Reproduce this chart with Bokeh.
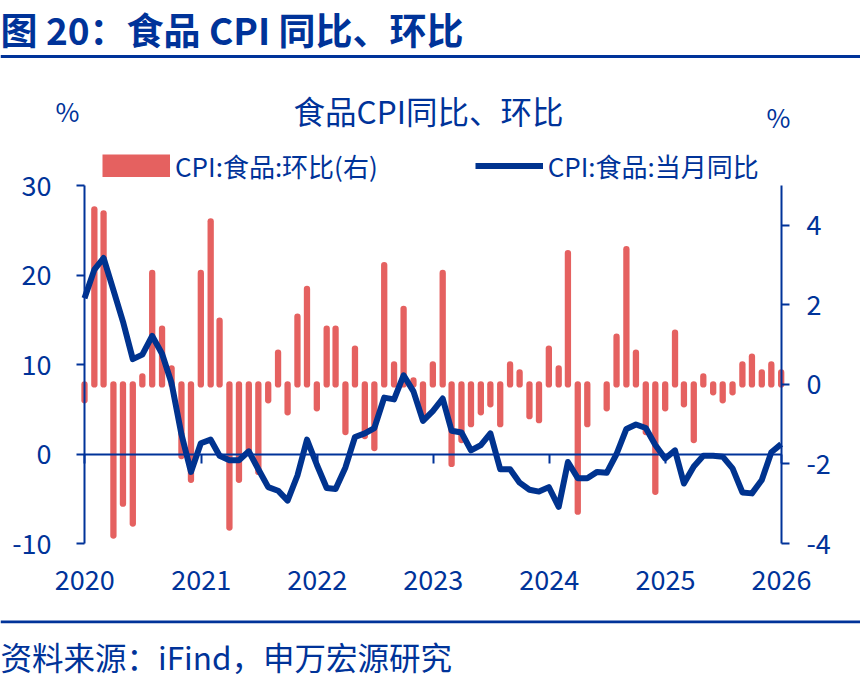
import pandas as pd

from bokeh.plotting import figure
from bokeh.models import (Range1d, LinearAxis, DatetimeAxis, FixedTicker, DatetimeTickFormatter,
                          Legend, LegendItem, Label, Span, ColumnDataSource)
from bokeh.embed import file_html
from bokeh.resources import INLINE

BLUE = "#003399"
LINE_BLUE = "#00338F"
RED = "#E56160"
FONT = "Noto Sans CJK SC"

# month-end dates, Dec 2019 .. Dec 2025
months = pd.date_range("2019-12-31", periods=73, freq="ME")

# CPI:食品:环比 (%, right axis)
mom = [-0.4,
       4.4, 4.3, -3.8, -3.0, -3.5, 0.2, 2.8, 1.4, 0.4, -1.8, -2.4, 2.8,
       4.1, 1.6, -3.6, -2.4, -1.7, -2.2, -0.4, 0.8, -0.7, 1.7, 2.4, -0.6,
       1.4, 1.4, -1.2, 0.9, -1.3, -1.6, 3.0, 0.5, 1.9, 0.1, -0.8, 0.5,
       2.8, -2.0, -1.4, -1.0, -0.7, -0.5, -1.0, 0.5, 0.3, -0.8, -0.9, 0.9,
       0.4, 3.3, -3.2, -1.0, 0.0, -0.6, 1.2, 3.4, 0.8, -1.2, -2.7, -0.6,
       1.3, -0.5, -1.4, 0.2, -0.2, -0.4, -0.2, 0.5, 0.7, 0.3, 0.5, 0.3]

# CPI:食品:当月同比 (%, left axis)
yoy = [17.4,
       20.6, 21.9, 18.3, 14.8, 10.6, 11.1, 13.2, 11.2, 7.9, 2.2, -2.0, 1.2,
       1.6, -0.2, -0.7, -0.7, 0.3, -1.7, -3.7, -4.1, -5.2, -2.4, 1.6, -1.2,
       -3.8, -3.9, -1.5, 1.9, 2.3, 2.9, 6.3, 6.1, 8.8, 7.0, 3.7, 4.8,
       6.2, 2.6, 2.4, 0.4, 1.0, 2.3, -1.7, -1.7, -3.2, -4.0, -4.2, -3.7,
       -5.9, -0.9, -2.7, -2.7, -2.0, -2.1, 0.0, 2.8, 3.3, 2.9, 1.0, -0.5,
       0.4, -3.3, -1.4, -0.2, -0.2, -0.3, -1.6, -4.3, -4.4, -2.9, 0.2, 1.1]

year_labels = ["2020", "2021", "2022", "2023", "2024", "2025", "2026"]
left_ticks = [-10, 0, 10, 20, 30]
right_ticks = [-4, -2, 0, 2, 4]
left_lim = (-10, 30)
right_lim = (-4, 5)

year_ms = [pd.Timestamp(y + "-01-01").value // 10**6 for y in year_labels]

src = ColumnDataSource(dict(month=months, yoy=yoy))
# a zero month has no bar
bar_src = ColumnDataSource(dict(month=[m for m, v in zip(months, mom) if v != 0],
                                mom=[v for v in mom if v != 0]))

# canvas and plot-area box in pixels; the frame covers the whole canvas,
# the axes are pinned with fixed_location so texts outside the plot area are not clipped
W, H = 860, 678
X0, X1, Y0, Y1 = 84, 781, 185, 543

t0 = pd.Timestamp("2019-12-31").value // 10**6
t1 = pd.Timestamp("2026-01-01").value // 10**6
ms_px = (t1 - t0) / (X1 - X0)


def stretch(lo, hi):
    per = (hi - lo) / (Y1 - Y0)
    return Range1d(lo - (H - Y1) * per, hi + Y0 * per)


p = figure(width=W, height=H, x_axis_type="datetime",
           x_range=Range1d(t0 - X0 * ms_px, t1 + (W - X1) * ms_px),
           y_range=stretch(*left_lim),
           x_axis_location=None, y_axis_location=None,
           output_backend="svg", toolbar_location=None)
p.extra_y_ranges = {"right": stretch(*right_lim)}
p.min_border = 0
p.outline_line_color = None
p.xgrid.grid_line_color = None
p.ygrid.grid_line_color = None


def style_axis(ax, standoff):
    ax.axis_line_color = BLUE
    ax.axis_line_width = 2
    ax.major_tick_line_color = BLUE
    ax.major_tick_line_width = 2
    ax.major_tick_out = 8
    ax.major_tick_in = 0
    ax.minor_tick_line_color = None
    ax.major_label_text_font = FONT
    ax.major_label_text_font_size = "27px"
    ax.major_label_text_color = BLUE
    ax.major_label_standoff = standoff


ya = LinearAxis(fixed_location=t0, bounds=left_lim, ticker=FixedTicker(ticks=left_ticks))
style_axis(ya, 25)
ya.major_label_overrides = {t: str(t) for t in left_ticks}
p.add_layout(ya, "left")

ra = LinearAxis(y_range_name="right", fixed_location=t1, bounds=right_lim,
                ticker=FixedTicker(ticks=right_ticks))
style_axis(ra, 17)
ra.major_label_overrides = {t: str(t) for t in right_ticks}
p.add_layout(ra, "right")

# x axis sits on the zero line; its year labels hang below the plot area
xa = DatetimeAxis(fixed_location=0, bounds=(t0, t1), ticker=FixedTicker(ticks=year_ms),
                  formatter=DatetimeTickFormatter(years="%Y", months="%Y", days="%Y"))
style_axis(xa, 107)
xa.major_tick_out = 9
p.add_layout(xa, "below")

bars = p.segment(x0="month", y0=0, x1="month", y1="mom", source=bar_src, y_range_name="right",
                 line_color=RED, line_width=6.3, line_cap="round")
# zero-length copy of the bars, only to give the legend a wide red swatch
swatch = p.segment(x0="month", y0=0, x1="month", y1=0, source=bar_src, y_range_name="right",
                   line_color=RED, line_width=23, line_cap="butt")
line = p.line(x="month", y="yoy", source=src, line_color=LINE_BLUE, line_width=6,
              line_join="round")

leg = Legend(items=[LegendItem(label="CPI:食品:环比(右)", renderers=[swatch]),
                    LegendItem(label="CPI:食品:当月同比", renderers=[line])],
             orientation="horizontal", location=(102, H - 184),
             label_text_font=FONT, label_text_font_size="26px", label_text_color=BLUE,
             glyph_width=68, glyph_height=23, spacing=97, label_standoff=5,
             padding=0, margin=0, border_line_color=None, background_fill_alpha=0)
p.add_layout(leg)


def label(x, y, text, size, align="center", bold=False):
    # x, y in page pixels from the top-left corner
    p.add_layout(Label(x=x, y=H - y, x_units="screen", y_units="screen", text=text,
                       text_font=FONT, text_font_size=size, text_color=BLUE,
                       text_font_style="bold" if bold else "normal",
                       text_align=align, text_baseline="middle"))


label(0, 28, "图 20：食品 CPI 同比、环比", "37px", "left", True)
label(67, 110, "%", "26px")
label(428, 109, "食品CPI同比、环比", "31.5px")
label(778, 116, "%", "26px")
label(0, 655, "资料来源：iFind，申万宏源研究", "31.5px", "left")

# full-width rules under the heading and above the source
for y, w in [(56, 3), (621.3, 2.7)]:
    p.add_layout(Span(location=H - y, location_units="screen", dimension="width",
                      line_color=BLUE, line_width=w))

open("out.html", "w").write(file_html(p, INLINE))
